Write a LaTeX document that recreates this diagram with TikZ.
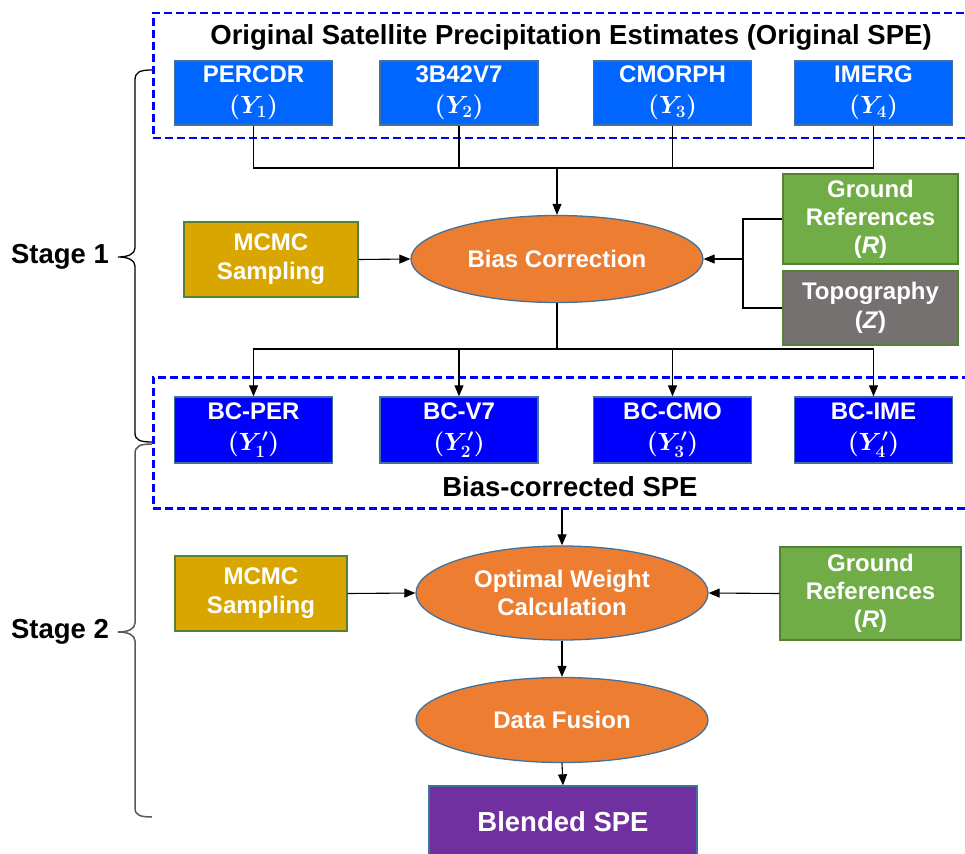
\documentclass[tikz,border=0pt]{standalone}
\usepackage{fontspec}
\setmainfont{Liberation Sans}
\usetikzlibrary{arrows.meta,shapes.geometric}
\definecolor{topblue}{HTML}{0066FF}
\definecolor{bcblue}{HTML}{0000FF}
\definecolor{edgeblue}{HTML}{41719C}
\definecolor{mcmcgold}{HTML}{D9A600}
\definecolor{grgreen}{HTML}{70AD47}
\definecolor{edgegreen}{HTML}{548235}
\definecolor{topogrey}{HTML}{767171}
\definecolor{ellorange}{HTML}{ED7D31}
\definecolor{blendpurple}{HTML}{7030A0}
\definecolor{dashblue}{HTML}{0000FF}
\definecolor{brace2}{HTML}{595959}
\tikzset{
  boxbase/.style={draw, line width=1.3pt, text=white, align=center, inner sep=0pt,
    font=\bfseries\fontsize{24}{29}\selectfont},
  mathbox/.style={boxbase, font=\bfseries\boldmath\fontsize{24}{31}\selectfont},
  satbox/.style={mathbox, fill=topblue, draw=edgeblue, minimum width=158pt, minimum height=64pt},
  bcbox/.style={mathbox, fill=bcblue, draw=edgeblue, minimum width=158pt, minimum height=66pt},
  mcmcbox/.style={boxbase, fill=mcmcgold, draw=edgegreen, minimum height=75pt},
  grbox/.style={boxbase, fill=grgreen, draw=edgegreen, font=\bfseries\fontsize{24}{28}\selectfont},
  topobox/.style={boxbase, fill=topogrey, draw=edgegreen},
  procell/.style={ellipse, draw=edgeblue, line width=1.3pt, fill=ellorange, text=white,
    align=center, inner sep=0pt, minimum width=292pt, font=\bfseries\fontsize{24}{28}\selectfont},
  dbox/.style={draw=dashblue, line width=2.5pt, dash pattern=on 8pt off 4pt, inner sep=0pt},
  titletext/.style={font=\bfseries\fontsize{27.5}{32}\selectfont, inner sep=0pt},
  conn/.style={draw=black, line width=1.1pt},
  arr/.style={conn, -{Triangle[length=11pt,width=9pt]}},
}
\begin{document}
\begin{tikzpicture}[x=1pt,y=-1pt]
\clip (0,0) rectangle (965,853);
\fill[white] (0,0) rectangle (965,853);

% dashed group boxes
\node[dbox, minimum width=823pt, minimum height=125pt, anchor=north west] (grp1) at (152,12) {};
\node[dbox, minimum width=823pt, minimum height=131pt, anchor=north west] (grp2) at (152,376) {};

\node[titletext] (t1) at (571,37) {Original Satellite Precipitation Estimates (Original SPE)};
\node[titletext] (t2) at (570,487) {Bias-corrected SPE};

% satellite boxes
\node[satbox] (p1) at (253.5,93) {PERCDR\\$(Y_1)$};
\node[satbox] (p2) at (459,93) {3B42V7\\$(Y_2)$};
\node[satbox] (p3) at (672.5,93) {CMORPH\\$(Y_3)$};
\node[satbox] (p4) at (873.5,93) {IMERG\\$(Y_4)$};

% stage 1 middle
\node[procell, minimum height=87pt] (bias) at (557,259) {Bias Correction};
\node[mcmcbox, minimum width=174pt] (m1) at (271,259.5) {MCMC\\Sampling};
\node[grbox, minimum width=175pt, minimum height=90pt] (g1) at (870.5,219) {Ground\\References\\(\textit{R})};
\node[topobox, minimum width=175pt, minimum height=74pt] (topo) at (870.5,308) {Topography\\(\textit{Z})};

% bias corrected boxes
\node[bcbox] (b1) at (253.5,430) {BC-PER\\$(Y'_1)$};
\node[bcbox] (b2) at (459,430) {BC-V7\\$(Y'_2)$};
\node[bcbox] (b3) at (672.5,430) {BC-CMO\\$(Y'_3)$};
\node[bcbox] (b4) at (873.5,430) {BC-IME\\$(Y'_4)$};

% stage 2
\node[procell, minimum height=94pt] (owc) at (562,593) {Optimal Weight\\Calculation};
\node[mcmcbox, minimum width=172pt] (m2) at (261,593.5) {MCMC\\Sampling};
\node[grbox, minimum width=181pt, minimum height=93pt] (g2) at (870.5,593.5) {Ground\\References\\(\textit{R})};
\node[procell, minimum height=85pt] (df) at (562,720) {Data Fusion};
\node[boxbase, fill=blendpurple, draw=edgeblue, minimum width=268pt, minimum height=72pt,
  font=\bfseries\fontsize{27.5}{32}\selectfont] (bl) at (563,822) {Blended SPE};

% connectors stage 1
\coordinate (j1) at (557,168);
\draw[conn] (p1.south) |- (j1);
\draw[conn] (p2.south) |- (j1);
\draw[conn] (p3.south) |- (j1);
\draw[conn] (p4.south) |- (j1);
\draw[arr] (j1) -- (bias.north);
\draw[arr] (m1.east) -- (bias.west);
\coordinate (j3) at (743,259);
\draw[conn] (g1.west) -| (j3);
\draw[conn] (topo.west) -| (j3);
\draw[arr] (j3) -- (bias.east);
\coordinate (j2) at (557,349);
\draw[conn] (bias.south) -- (j2);
\draw[arr] (j2) -| (b1.north);
\draw[arr] (j2) -| (b2.north);
\draw[arr] (j2) -| (b3.north);
\draw[arr] (j2) -| (b4.north);

% connectors stage 2
\draw[arr] (owc.north |- grp2.south) -- (owc.north);
\draw[arr] (m2.east) -- (owc.west);
\draw[arr] (g2.west) -- (owc.east);
\draw[arr] (owc.south) -- (df.north);
\draw[arr] (df.south) -- (bl.north);

% stage labels and braces
\node[titletext] (s1) at (60,257) {Stage 1};
\node[titletext] (s2) at (60,632) {Stage 2};
\draw[black, line width=1.3pt]
  (152,70) .. controls (140,70) and (135,72) .. (135,80) -- (135,248)
  .. controls (135,254) and (128,257) .. (118,257)
  .. controls (128,257) and (135,260) .. (135,266) -- (135,433)
  .. controls (135,440) and (140,442) .. (152,442);
\draw[brace2, line width=1.5pt]
  (152,444) .. controls (140,444) and (135,446) .. (135,454) -- (135,623)
  .. controls (135,629) and (128,632) .. (118,632)
  .. controls (128,632) and (135,635) .. (135,641) -- (135,808)
  .. controls (135,815) and (140,817) .. (152,817);
\end{tikzpicture}
\end{document}
